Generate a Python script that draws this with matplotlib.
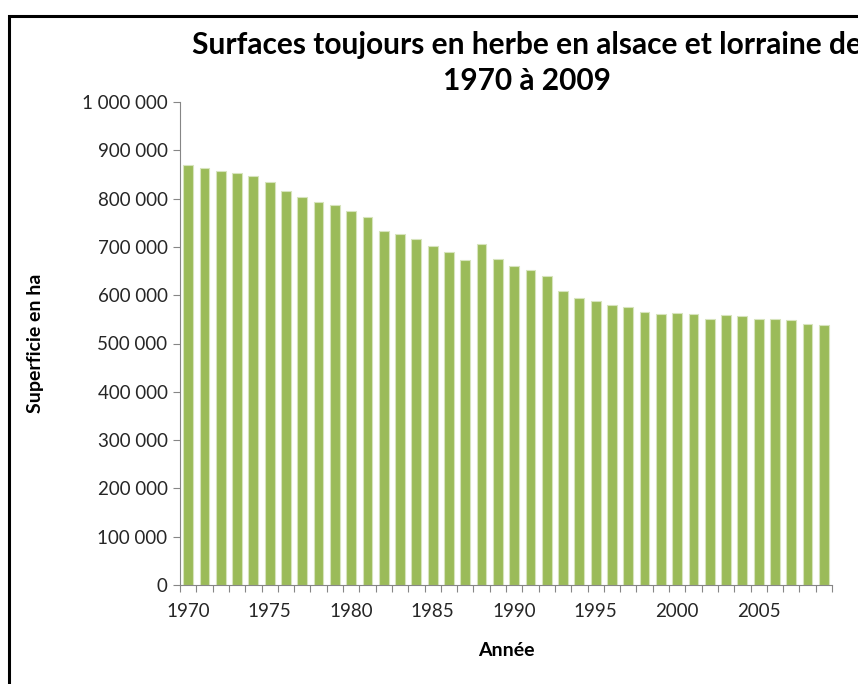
import matplotlib.pyplot as plt
from matplotlib.patches import Rectangle
from matplotlib.ticker import FuncFormatter

years = list(range(1970, 2010))
surface_ha = [869000, 864000, 857000, 852000, 846000, 834000, 816000, 803000,
              792000, 787000, 775000, 762000, 733000, 727000, 716000, 702000,
              689000, 672000, 705000, 675000, 661000, 652000, 640000, 609000,
              595000, 589000, 579000, 575000, 565000, 561000, 563000, 561000,
              551000, 559000, 557000, 551000, 551000, 549000, 540000, 538000]

font = ['Lato', 'DejaVu Sans']
plt.rcParams['font.family'] = font

fig = plt.figure(figsize=(8.58, 6.84), dpi=100)
ax = fig.add_axes([180 / 858, 1 - 585 / 684, 652 / 858, 483 / 684])

x = list(range(len(years)))
ax.bar(x, surface_ha, width=0.6, color='#9bbb59', edgecolor='#d7e4bd', linewidth=0.8)

ax.set_xlim(-0.5, len(years) - 0.5)
ax.set_ylim(0, 1000000)
ax.set_yticks(range(0, 1000001, 100000))
ax.yaxis.set_major_formatter(FuncFormatter(lambda v, p: f"{int(v):,}".replace(",", " ")))

# tick marks between categories, labels every 5 years
ax.set_xticks([i - 0.5 for i in range(len(years) + 1)])
ax.set_xticklabels([])
ax.set_xticks([i for i in x if years[i] % 5 == 0], minor=True)
ax.set_xticklabels([str(y) for y in years if y % 5 == 0], minor=True)
ax.tick_params(axis='x', which='major', length=5, color='#868686', direction='out')
ax.tick_params(axis='x', which='minor', length=0, pad=13, labelsize=13.5, labelcolor='#262626')
ax.tick_params(axis='y', length=5, color='#868686', labelsize=13.5, labelcolor='#262626', pad=4)

for side in ['top', 'right']:
    ax.spines[side].set_visible(False)
for side in ['left', 'bottom']:
    ax.spines[side].set_color('#868686')

ax.set_xlabel("Année", fontsize=14, fontweight='bold', labelpad=16)
ax.set_ylabel("Superficie en ha", fontsize=14, fontweight='bold', labelpad=27)

fig.text(527 / 858, 1 - 63 / 684, "Surfaces toujours en herbe en alsace et lorraine de\n1970 à 2009",
         ha='center', va='center', fontsize=21.5, fontweight='bold', linespacing=1.32)

# chart border (cropped on the right and bottom)
fig.patches.append(Rectangle((9 / 858, -0.05), 1.2, 1 - 16 / 684 + 0.05, transform=fig.transFigure,
                             fill=False, edgecolor='black', linewidth=2.2))

fig.savefig("out.png", dpi=100)
